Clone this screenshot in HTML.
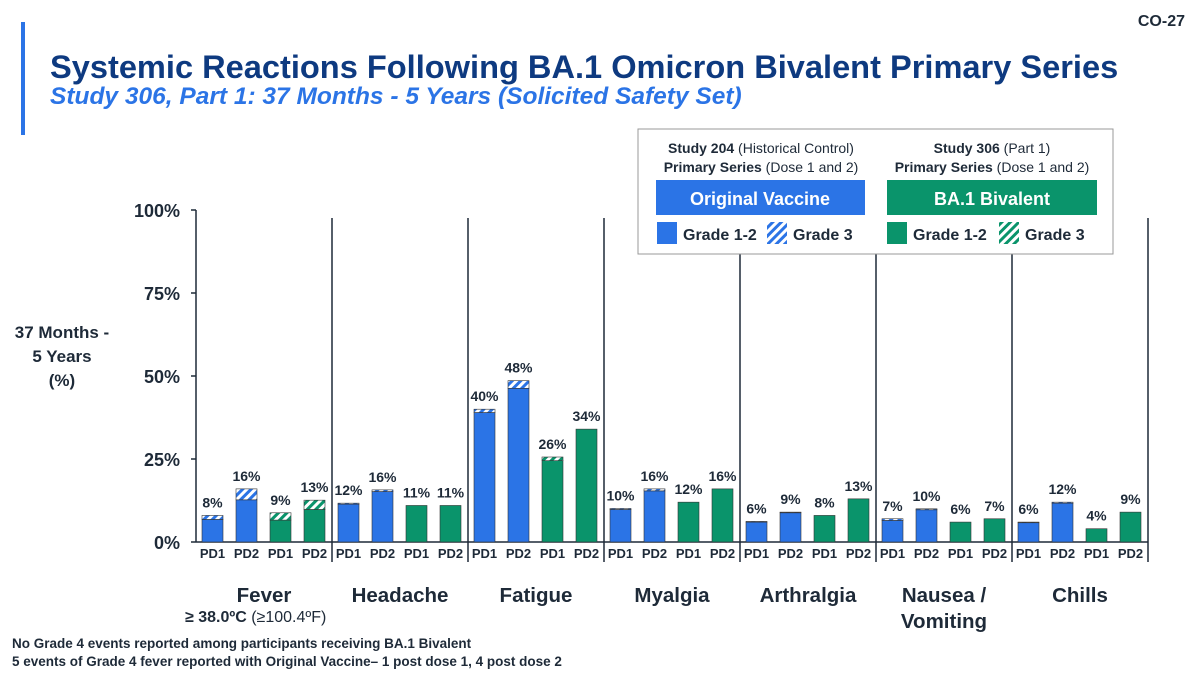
<!DOCTYPE html>
<html><head><meta charset="utf-8"><style>
body{margin:0;width:1200px;height:676px;background:#fff;overflow:hidden;font-family:"Liberation Sans",Arial,sans-serif;}
svg{display:block}
</style></head><body>
<svg id="c" width="1200" height="676" xmlns="http://www.w3.org/2000/svg">
<defs>
<pattern id="hb" width="6" height="6" patternUnits="userSpaceOnUse" patternTransform="rotate(45)"><rect width="6" height="6" fill="#fff"/><rect width="3" height="6" fill="#2b74e6"/></pattern>
<pattern id="hg" width="6" height="6" patternUnits="userSpaceOnUse" patternTransform="rotate(45)"><rect width="6" height="6" fill="#fff"/><rect width="3" height="6" fill="#0a946b"/></pattern>
</defs>
<rect x="21" y="22" width="4" height="113" fill="#2b74e6"/>
<text x="50" y="78" font-size="32.6" font-weight="bold" fill="#0e3a80">Systemic Reactions Following BA.1 Omicron Bivalent Primary Series</text>
<text x="50" y="104" font-size="24.5" font-weight="bold" font-style="italic" fill="#2b74e6">Study 306, Part 1: 37 Months - 5 Years (Solicited Safety Set)</text>
<text x="1185" y="26" font-size="16" font-weight="bold" fill="#1e2a38" text-anchor="end">CO-27</text>
<g font-size="17" font-weight="bold" fill="#1e2a38" text-anchor="middle">
<text x="62" y="338">37 Months -</text><text x="62" y="362">5 Years</text><text x="62" y="386">(%)</text></g>
<g id="plot"></g>
<g font-size="20.5" font-weight="bold" fill="#1e2a38" id="cats"></g>
<text x="185" y="622" font-size="16" fill="#1e2a38"><tspan font-weight="bold">≥ 38.0ºC</tspan> (≥100.4ºF)</text>
<text x="12" y="648" font-size="13.5" font-weight="bold" fill="#1e2a38">No Grade 4 events reported among participants receiving BA.1 Bivalent</text>
<text x="12" y="666" font-size="13.5" font-weight="bold" fill="#1e2a38">5 events of Grade 4 fever reported with Original Vaccine– 1 post dose 1, 4 post dose 2</text>
<g>
<rect x="638" y="129" width="475" height="125" fill="#fff" stroke="#999" stroke-width="1"/>
<text x="761" y="153" font-size="14" fill="#1e2a38" text-anchor="middle"><tspan font-weight="bold">Study 204</tspan> (Historical Control)</text>
<text x="761" y="172" font-size="14" fill="#1e2a38" text-anchor="middle"><tspan font-weight="bold">Primary Series</tspan> (Dose 1 and 2)</text>
<text x="992" y="153" font-size="14" fill="#1e2a38" text-anchor="middle"><tspan font-weight="bold">Study 306</tspan> (Part 1)</text>
<text x="992" y="172" font-size="14" fill="#1e2a38" text-anchor="middle"><tspan font-weight="bold">Primary Series</tspan> (Dose 1 and 2)</text>
<rect x="656" y="180" width="209" height="35" fill="#2b74e6"/>
<text x="760" y="205" font-size="18" font-weight="bold" fill="#fff" text-anchor="middle">Original Vaccine</text>
<rect x="887" y="180" width="210" height="35" fill="#0a946b"/>
<text x="992" y="205" font-size="18" font-weight="bold" fill="#fff" text-anchor="middle">BA.1 Bivalent</text>
<rect x="657" y="222" width="20" height="22" fill="#2b74e6"/>
<text x="683" y="240" font-size="16" font-weight="bold" fill="#1e2a38">Grade 1-2</text>
<rect x="767" y="222" width="20" height="22" fill="url(#hb)"/>
<text x="793" y="240" font-size="16" font-weight="bold" fill="#1e2a38">Grade 3</text>
<rect x="887" y="222" width="20" height="22" fill="#0a946b"/>
<text x="913" y="240" font-size="16" font-weight="bold" fill="#1e2a38">Grade 1-2</text>
<rect x="999" y="222" width="20" height="22" fill="url(#hg)"/>
<text x="1025" y="240" font-size="16" font-weight="bold" fill="#1e2a38">Grade 3</text>
</g>
</svg>
<script>
const categories=["Fever","Headache","Fatigue","Myalgia","Arthralgia","Nausea /|Vomiting","Chills"];
const doseLabels=["PD1","PD2","PD1","PD2"];
const grade12=[[6.8,12.7,6.6,9.8],[11.4,15.2,11,11],[39,46.3,24.5,34],[9.8,15.4,12,16],[6,8.8,8,13],[6.5,9.7,6,7],[5.8,11.7,4,9]];
const grade3=[[1.2,3.3,2.2,2.8],[0.3,0.5,0,0],[1,2.3,1.1,0],[0.3,0.6,0,0],[0.2,0.2,0,0],[0.5,0.3,0,0],[0.2,0.3,0,0]];
const totals=[[8,16,9,13],[12,16,11,11],[40,48,26,34],[10,16,12,16],[6,9,8,13],[7,10,6,7],[6,12,4,9]];
const yTicks=[0,25,50,75,100];
const NS="http://www.w3.org/2000/svg";
const X0=196,GW=136,Y0=542,Y100=210;
const y=v=>Y0-(Y0-Y100)*v/100;
const gx=i=>X0+i*GW;
const bx=(i,j)=>gx(i)+6+j*34;
const BW=21;
const plot=document.getElementById('plot');
function mk(t,a,p){const e=document.createElementNS(NS,t);for(const k in a)e.setAttribute(k,a[k]);(p||plot).appendChild(e);return e;}
yTicks.forEach(t=>{
  const l=mk('line',{x1:X0-5,x2:X0,y1:y(t),y2:y(t),stroke:'#1e2a38','stroke-width':1.5});
  
  
  const tx=mk('text',{x:X0-16,y:y(t)+7,'font-size':18,'font-weight':'bold',fill:'#1e2a38','text-anchor':'end'});
  tx.textContent=t+'%';
  
  
});
const ax=mk('line',{x1:X0,x2:X0,y1:y(100),y2:Y0,stroke:'#1e2a38','stroke-width':1.5});


const xa=mk('line',{x1:X0,x2:gx(categories.length),y1:Y0,y2:Y0,stroke:'#1e2a38','stroke-width':1.5});


categories.forEach((c,i)=>{
  const s=mk('line',{x1:gx(i+1),x2:gx(i+1),y1:218,y2:562,stroke:'#1e2a38','stroke-width':1.5});
  
  
  for(let j=0;j<4;j++){
    const col=j<2?'#2b74e6':'#0a946b';
    const g12=grade12[i][j],g3=grade3[i][j];
    const r=mk('rect',{x:bx(i,j),y:y(g12),width:BW,height:Y0-y(g12),fill:col,stroke:'#333','stroke-width':0.6});
    
    
    if(g3>0){
      const r3=mk('rect',{x:bx(i,j),y:y(g12+g3),width:BW,height:y(g12)-y(g12+g3),fill:j<2?'url(#hb)':'url(#hg)',stroke:'#333','stroke-width':0.6});
      
      
    }
    const v=mk('text',{x:bx(i,j)+BW/2,y:y(g12+g3)-8,'font-size':14,'font-weight':'bold',fill:'#1e2a38','text-anchor':'middle'});
    v.textContent=totals[i][j]+'%';
    
    
    const d=mk('text',{x:bx(i,j)+BW/2,y:558,'font-size':13,'font-weight':'bold',fill:'#1e2a38','text-anchor':'middle'});
    d.textContent=doseLabels[j];
    
    
  }
  const parts=c.split('|');
  parts.forEach((p,k)=>{
    const t=mk('text',{x:gx(i)+GW/2,y:602+k*26,'text-anchor':'middle'},document.getElementById('cats'));
    t.textContent=p;
    
    
  });
});
</script>
</body></html>
